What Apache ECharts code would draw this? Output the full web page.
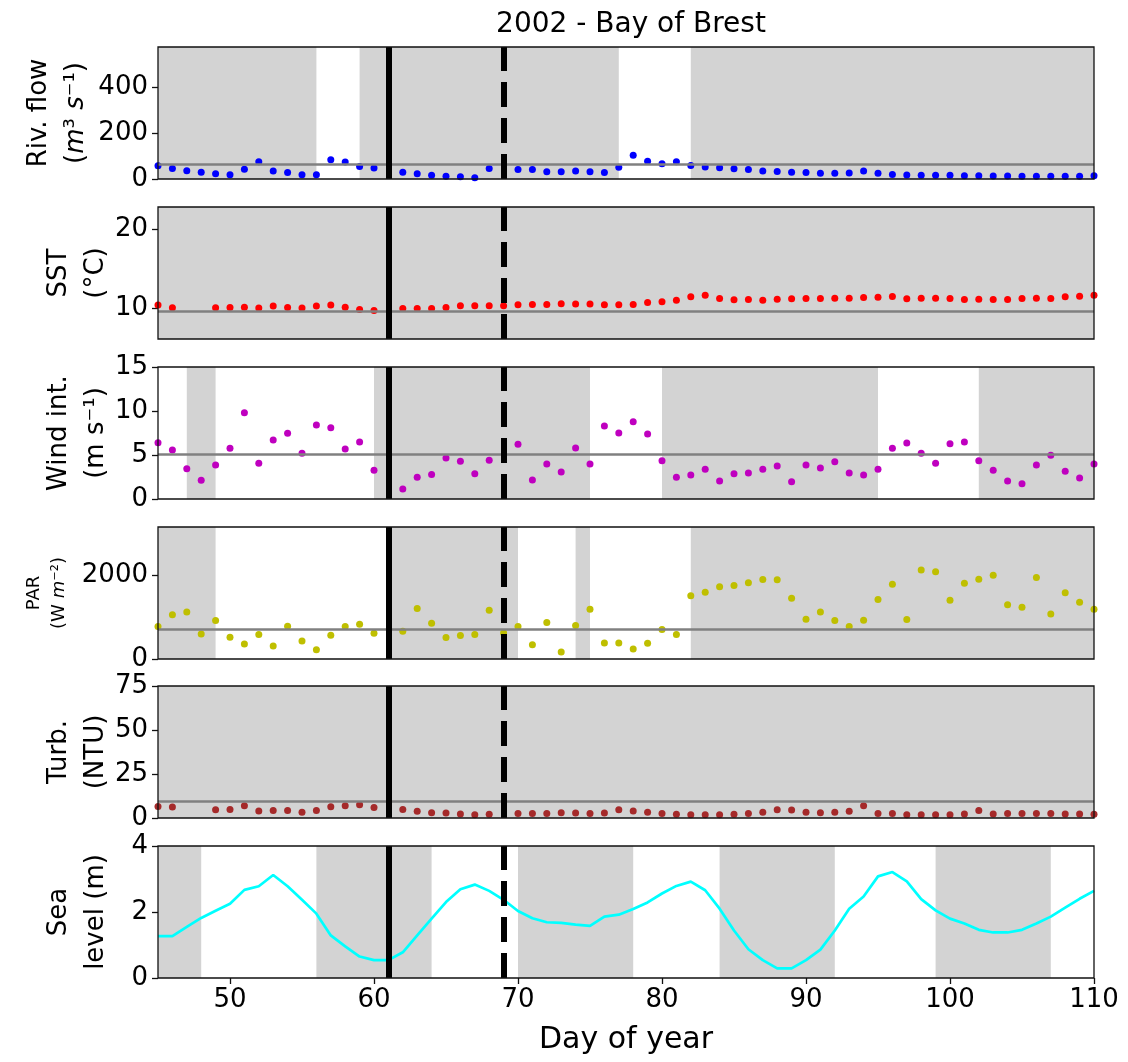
<!DOCTYPE html>
<html>
<head>
<meta charset="utf-8">
<script src="https://cdn.jsdelivr.net/npm/echarts@6/dist/echarts.min.js"></script>
<style>
html, body { margin: 0; padding: 0; background: #fff; }
#chart { width: 1128px; height: 1062px; }
</style>
</head>
<body>
<div id="chart"></div>
<script>
// daily values, day 45 .. day 110 (null = no visible point)
var firstDay = 45;

var riverFlow = [58, 46, 36, 29, 23, 19, 43, 75, 35, 28,
  19, 19, 84, 74, 55, 48, null, 29, 23, 16,
  12, 10, 6, 46, null, 41, 41, 32, 32, 35,
  32, 28, 51, 104, 78, 67, 75, 59, 52, 49,
  45, 41, 35, 33, 30, 28, 25, 25, 26, 35,
  25, 20, 17, 16, 16, 16, 14, 14, 13, 13,
  12, 12, 12, 12, 12, 14];

var sst = [10.34, 10.0, null, null, 10.0, 10.04, 10.08, 9.96, 10.21, 10.04,
  9.96, 10.21, 10.34, 10.08, 9.79, 9.66, null, 9.92, 9.92, 9.92,
  10.04, 10.25, 10.25, 10.25, 10.25, 10.38, 10.42, 10.42, 10.5, 10.47,
  10.47, 10.38, 10.38, 10.42, 10.68, 10.76, 10.97, 11.4, 11.6, 11.19,
  11.02, 11.06, 10.97, 11.1, 11.14, 11.19, 11.19, 11.23, 11.23, 11.31,
  11.36, 11.44, 11.14, 11.23, 11.23, 11.19, 11.06, 11.1, 11.06, 11.06,
  11.19, 11.23, 11.19, 11.4, 11.48, 11.6];

var wind = [6.4, 5.57, 3.45, 2.12, 3.86, 5.76, 9.81, 4.05, 6.7, 7.46,
  5.19, 8.41, 8.1, 5.68, 6.48, 3.26, null, 1.14, 2.46, 2.77,
  4.66, 4.28, 2.88, 4.39, null, 6.21, 2.16, 3.98, 3.07, 5.8,
  3.98, 8.3, 7.5, 8.79, 7.39, 4.36, 2.46, 2.73, 3.37, 2.05,
  2.88, 2.95, 3.37, 3.75, 1.97, 3.86, 3.52, 4.24, 2.95, 2.73,
  3.37, 5.76, 6.36, 5.19, 4.05, 6.29, 6.48, 4.36, 3.26, 2.05,
  1.74, 3.86, 4.96, 3.14, 2.39, 3.98];

var par = [770, 1048, 1119, 595, 913, 516, 357, 579, 310, 778,
  429, 222, 564, 770, 825, 611, null, 659, 1198, 849,
  508, 556, 579, 1159, 619, 770, 341, 865, 167, 794,
  1183, 381, 381, 238, 373, 698, 579, 1500, 1587, 1714,
  1746, 1810, 1889, 1881, 1445, 944, 1119, 913, 770, 921,
  1413, 1778, 937, 2111, 2072, 1397, 1802, 1897, 1992, 1286,
  1230, 1937, 1071, 1572, 1349, 1183];

var turbidity = [6.6, 6.2, null, null, 4.7, 4.9, 7.0, 4.0, 4.3, 4.3,
  3.2, 4.2, 6.4, 7.0, 7.5, 6.0, null, 4.9, 3.8, 3.0,
  2.8, 2.3, 1.9, 2.1, null, 2.5, 2.6, 2.6, 3.0, 2.8,
  2.6, 2.8, 4.7, 4.0, 3.2, 2.5, 2.1, 1.9, 1.9, 1.9,
  2.1, 2.6, 3.2, 4.7, 4.5, 3.2, 3.0, 3.2, 3.8, 7.0,
  2.5, 2.5, 1.9, 1.9, 1.9, 1.9, 2.3, 4.2, 2.3, 2.5,
  2.5, 2.5, 2.5, 2.3, 2.3, 2.1];

var seaLevel = [1.27, 1.27, 1.55, 1.82, 2.04, 2.25, 2.67, 2.78, 3.12, 2.78,
  2.37, 1.95, 1.29, 0.96, 0.65, 0.54, 0.54, 0.78, 1.29, 1.8,
  2.3, 2.69, 2.83, 2.64, 2.37, 2.03, 1.81, 1.69, 1.67, 1.62,
  1.58, 1.86, 1.92, 2.09, 2.29, 2.56, 2.79, 2.92, 2.66, 2.1,
  1.44, 0.87, 0.54, 0.29, 0.29, 0.54, 0.86, 1.44, 2.1, 2.47,
  3.08, 3.21, 2.93, 2.39, 2.05, 1.8, 1.65, 1.46, 1.38, 1.38,
  1.46, 1.65, 1.86, 2.13, 2.4, 2.64];

// reference levels (grey horizontal lines)
var meanLevels = [65, 9.55, 5.05, 700, 9.6, null];

// shaded day ranges per panel
var shadeRiver = [[45, 56], [59, 77], [82, 110]];
var shadeSst = [[45, 110]];
var shadeWind = [[47, 49], [60, 75], [80, 95], [102, 110]];
var shadePar = [[45, 49], [61, 70], [74, 75], [82, 110]];
var shadeTurb = [[45, 110]];
var shadeSea = [[45, 48], [56, 64], [70, 78], [84, 92], [99, 107]];

// event days (solid / dashed vertical lines)
var eventSolid = 61;
var eventDashed = 69;

var dayTicks = [50, 60, 70, 80, 90, 100, 110];
var yTicks = [[0, 200, 400], [10, 20], [0, 5, 10, 15], [0, 2000], [0, 25, 50, 75], [0, 2, 4]];
var yRanges = [[0, 577], [6, 22.9], [0, 15], [0, 3135], [0, 75], [0, 4]];

var font = 'DejaVu Sans';
var myChart = echarts.init(document.getElementById('chart'));

var panels = [
  { name: 'Riv. flow\n({it|m}³ {it|s}⁻¹)', data: riverFlow, color: '#0000ff', shade: shadeRiver, gap: 64, fs: 26 },
  { name: 'SST\n(°C)', data: sst, color: '#ff0000', shade: shadeSst, gap: 44, fs: 26 },
  { name: 'Wind int.\n(m s⁻¹)', data: wind, color: '#bf00bf', shade: shadeWind, gap: 44, fs: 26 },
  { name: 'PAR\n(W {it|m}⁻²)', data: par, color: '#bfbf00', shade: shadePar, gap: 86, fs: 18 },
  { name: 'Turb.\n(NTU)', data: turbidity, color: '#a52a2a', shade: shadeTurb, gap: 44, fs: 26 },
  { name: 'Sea\nlevel (m)', data: seaLevel, color: '#00ffff', shade: shadeSea, gap: 44, fs: 26, line: true }
];
var gridTops = [47, 207, 367, 527, 686, 846];

var grids = [], xAxes = [], yAxes = [], series = [];

panels.forEach(function (p, i) {
  var last = i === panels.length - 1;
  grids.push({
    left: 158, width: 936, top: gridTops[i], height: 132,
    show: true, borderColor: '#111', borderWidth: 1.3, z: 6
  });
  xAxes.push({
    type: 'value', gridIndex: i, min: 45, max: 110,
    splitLine: { show: false },
    axisLine: { show: false },
    axisTick: { show: last, length: 6, lineStyle: { color: '#111', width: 1.3 }, customValues: dayTicks },
    axisLabel: { show: last, customValues: dayTicks, fontSize: 26, color: '#000', fontFamily: font, margin: 9 },
    name: last ? 'Day of year' : '',
    nameLocation: 'middle', nameGap: 47, nameMoveOverlap: false,
    nameTextStyle: { fontSize: 30, color: '#000', fontFamily: font }
  });
  yAxes.push({
    type: 'value', gridIndex: i, min: yRanges[i][0], max: yRanges[i][1],
    splitLine: { show: false },
    axisLine: { show: false },
    axisTick: { show: true, length: 6, lineStyle: { color: '#111', width: 1.3 }, customValues: yTicks[i] },
    axisLabel: {
      customValues: yTicks[i], fontSize: 26, color: '#000', fontFamily: font, margin: 10,
      formatter: function (v) { return String(v); }
    },
    name: p.name, nameLocation: 'middle', nameGap: p.gap, nameMoveOverlap: false,
    nameTextStyle: {
      fontSize: p.fs, color: '#000', fontFamily: font, lineHeight: p.fs * 1.4,
      rich: { it: { fontStyle: 'italic', fontSize: p.fs, fontFamily: font, color: '#000' } }
    }
  });

  var pts = [];
  p.data.forEach(function (v, k) {
    if (v !== null) pts.push([firstDay + k, v]);
  });

  // shading
  series.push({
    type: 'line', xAxisIndex: i, yAxisIndex: i, data: [], silent: true,
    markArea: {
      silent: true, z: 1,
      itemStyle: { color: '#d3d3d3' },
      data: p.shade.map(function (r) { return [{ xAxis: r[0] }, { xAxis: r[1] }]; })
    }
  });

  if (p.line) {
    series.push({
      type: 'line', xAxisIndex: i, yAxisIndex: i, data: pts, z: 3,
      showSymbol: false, lineStyle: { color: p.color, width: 2.7 }, itemStyle: { color: p.color }
    });
  } else {
    series.push({
      type: 'scatter', xAxisIndex: i, yAxisIndex: i, data: pts, z: 3,
      symbolSize: 7, itemStyle: { color: p.color, opacity: 1 }
    });
  }

  // grey reference line
  if (meanLevels[i] !== null) {
    series.push({
      type: 'line', xAxisIndex: i, yAxisIndex: i, data: [], silent: true,
      markLine: {
        silent: true, z: 4, symbol: 'none', label: { show: false },
        lineStyle: { color: '#808080', width: 2.5, type: 'solid' },
        data: [{ yAxis: meanLevels[i] }]
      }
    });
  }

  // event lines
  series.push({
    type: 'line', xAxisIndex: i, yAxisIndex: i, data: [], silent: true,
    markLine: {
      silent: true, z: 5, symbol: 'none', label: { show: false },
      lineStyle: { color: '#000', width: 6, type: 'solid' },
      data: [
        { xAxis: eventSolid },
        { xAxis: eventDashed, lineStyle: { type: [25, 11], color: '#000', width: 6 } }
      ]
    }
  });
});

var option = {
  animation: false,
  backgroundColor: '#fff',
  title: {
    text: '2002 - Bay of Brest', left: 626, top: 6, textAlign: 'center',
    textStyle: { fontSize: 28, fontWeight: 'normal', color: '#000', fontFamily: font }
  },
  grid: grids,
  xAxis: xAxes,
  yAxis: yAxes,
  series: series
};

myChart.setOption(option);
window.addEventListener('resize', function () { myChart.resize(); });
</script>
</body>
</html>
